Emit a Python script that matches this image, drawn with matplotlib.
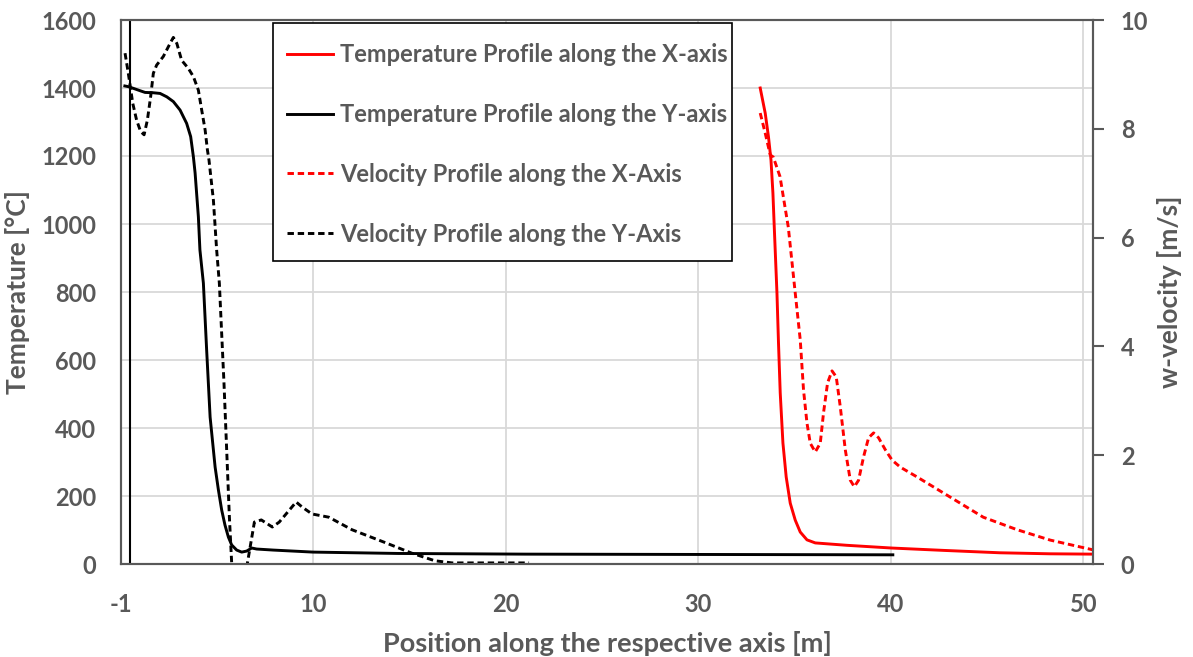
import matplotlib
matplotlib.use("Agg")
import matplotlib.pyplot as plt
from matplotlib.patches import Rectangle

# Temperature profile along the Y-axis [m, degC]
ty_x = [0.2, 0.38, 0.64, 0.99, 1.25, 1.68, 2.03, 2.38, 2.72, 3.07, 3.41, 3.62,
        3.76, 3.85, 4.02, 4.1, 4.28, 4.45, 4.63, 4.89, 5.06, 5.23, 5.4, 5.58,
        5.75, 6.01, 6.27, 6.53, 6.79, 7.05, 7.9, 9.98, 14.4, 21.0, 40.1]
ty_T = [1406, 1404, 1399, 1392, 1387, 1386, 1384, 1374, 1360, 1335, 1296, 1257,
        1198, 1150, 1021, 924, 826, 629, 432, 285, 218, 159, 115, 79,
        56, 41, 35, 38, 47, 44, 41, 35, 31, 29, 27]

# Temperature profile along the X-axis [m, degC]
tx_x = [33.21, 33.47, 33.64, 33.77, 33.87, 33.94, 34.01, 34.08, 34.16, 34.25,
        34.39, 34.56, 34.77, 35.03, 35.29, 35.64, 36.07, 37.71, 40.03, 42.74,
        45.66, 48.27, 50.5]
tx_T = [1400, 1326, 1256, 1188, 1091, 991, 894, 797, 650, 503,
        356, 256, 179, 129, 94, 71, 62, 55, 47, 40,
        33, 30, 29]

# Velocity profile along the X-axis [m, m/s]
vx_x = [33.21, 33.47, 33.73, 33.89, 34.24, 34.67, 35.03, 35.29, 35.46, 35.64,
        35.81, 36.07, 36.33, 36.5, 36.71, 36.94, 37.16, 37.37, 37.63, 37.89,
        38.1, 38.32, 38.58, 38.84, 39.1, 39.36, 39.71, 40.06, 40.49, 41.36,
        43.08, 44.8, 46.56, 48.27, 50.5]
vx_v = [8.29, 7.92, 7.52, 7.48, 7.12, 6.19, 4.98, 4.12, 3.2, 2.59,
        2.22, 2.06, 2.22, 2.78, 3.33, 3.55, 3.44, 2.89, 2.1, 1.54,
        1.42, 1.54, 1.97, 2.32, 2.41, 2.32, 2.1, 1.91, 1.78, 1.6,
        1.23, 0.86, 0.63, 0.44, 0.26]

# Velocity profile along the Y-axis [m, m/s]
vy_x = [0.21, 0.38, 0.61, 0.81, 1.02, 1.2, 1.37, 1.54, 1.68, 1.85, 2.2, 2.55,
        2.72, 2.9, 3.15, 3.5, 3.76, 4.02, 4.19, 4.37, 4.49, 4.57, 4.8, 4.97,
        5.11, 5.23, 5.35, 5.49, 5.63, 5.75, 6.0, 6.2, 6.4, 6.56, 6.93, 7.29,
        7.86, 8.22, 9.1, 9.4, 9.92, 10.8, 12.0, 13.75, 15.1, 16.3, 17.2, 21.2]
vy_v = [9.39, 9.02, 8.47, 8.16, 7.95, 7.89, 8.16, 8.59, 9.02, 9.17, 9.33, 9.57,
        9.68, 9.57, 9.26, 9.11, 8.96, 8.71, 8.35, 7.98, 7.61, 7.43, 6.69, 5.77,
        5.16, 4.24, 3.33, 2.1, 0.87, 0.02, -0.3, -0.4, -0.25, 0.0, 0.77, 0.81,
        0.68, 0.77, 1.14, 1.05, 0.92, 0.86, 0.63, 0.39, 0.2, 0.06, 0.02, 0.02]

ref_x = [0.47]

xtick_pos = [0, 10, 20, 30, 40, 50]
xtick_labels = ["-1", "10", "20", "30", "40", "50"]
t_ticks = [0, 200, 400, 600, 800, 1000, 1200, 1400, 1600]
v_ticks = [0, 2, 4, 6, 8, 10]

plt.rcParams["font.family"] = ["Lato", "DejaVu Sans"]
plt.rcParams["font.weight"] = "bold"
TXT = "#595959"
GRID = "#d9d9d9"
DASH = (0, (2.2, 1.3))

fig = plt.figure(figsize=(11.93, 6.57), dpi=100)
ax = fig.add_axes([121 / 1193, 93 / 657, 972 / 1193, 544 / 657])
ax2 = ax.twinx()

ax.set_xlim(0, 50.5)
ax.set_ylim(0, 1600)
ax2.set_ylim(0, 10)

ax.set_xticks(xtick_pos, xtick_labels)
ax.set_yticks(t_ticks)
ax2.set_yticks(v_ticks)
ax.grid(True, color=GRID, lw=1.3)
ax.set_axisbelow(True)

ax.axvline(ref_x[0], color="black", lw=1.5, zorder=2)

l1, = ax.plot(tx_x, tx_T, color="#ff0000", lw=2.1, label="Temperature Profile along the X-axis")
l2, = ax.plot(ty_x, ty_T, color="black", lw=2.1, label="Temperature Profile along the Y-axis")
l3, = ax2.plot(vx_x, vx_v, color="#ff0000", lw=2.1, ls=DASH,
               label="Velocity Profile along the X-Axis")
l4, = ax2.plot(vy_x, vy_v, color="black", lw=2.1, ls=DASH,
               label="Velocity Profile along the Y-Axis")

for a in (ax, ax2):
    for s in a.spines.values():
        s.set_color(TXT)
        s.set_linewidth(1.5)

ax.tick_params(axis="x", length=0, pad=21, labelsize=17, labelcolor=TXT)
ax.tick_params(axis="y", length=0, pad=18, labelsize=17, labelcolor=TXT)
ax2.tick_params(axis="y", length=8, width=1.5, color=TXT, pad=12,
                labelsize=17, labelcolor=TXT)

ax.set_xlabel("Position along the respective axis [m]", fontsize=19.5,
              fontweight="bold", color=TXT, labelpad=11)
ax.set_ylabel("Temperature [°C]", fontsize=19, fontweight="bold", color=TXT, labelpad=8)
ax2.set_ylabel("w-velocity [m/s]", fontsize=19, fontweight="bold", color=TXT, labelpad=6)

# legend box drawn separately so the padding can be uneven
box = Rectangle((0.1564, 0.557), 0.4722, 0.4375, transform=ax2.transAxes,
                facecolor="white", edgecolor="black", lw=1.2, zorder=4)
ax2.add_patch(box)
leg = ax2.legend(handles=[l1, l2, l3, l4], loc="upper left",
                 bbox_to_anchor=(0.1708, 0.958), borderaxespad=0, borderpad=0,
                 prop={"family": ["Lato", "DejaVu Sans"], "weight": "bold", "size": 17},
                 labelcolor=TXT, frameon=False,
                 handlelength=1.95, handletextpad=0.3, labelspacing=1.565)
leg.set_zorder(5)

fig.savefig("out.png", dpi=100)
